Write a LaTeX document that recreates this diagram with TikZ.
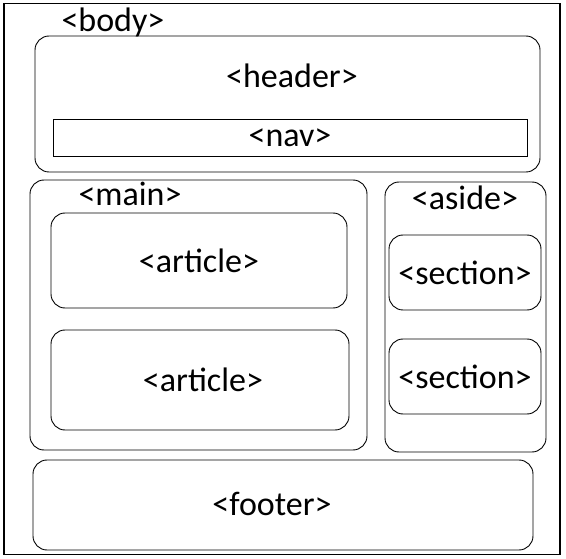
\documentclass[tikz,border=0pt]{standalone}
\usepackage{fontspec}
\setmainfont{Carlito}

\begin{document}
\begin{tikzpicture}[x=1pt, y=-1pt,
  box/.style = {draw, line width=0.9pt, rounded corners=14pt, inner sep=0pt},
  tag/.style = {font=\fontsize{34}{38}\selectfont, inner sep=0pt}]

\useasboundingbox (0,0) rectangle (566,559);

\node[box, rounded corners=0pt, line width=1.2pt, minimum width=556pt, minimum height=551pt] (body) at (282,279) {};
\node[tag] (bodytag) at (113,22) {<body>};

\node[box, minimum width=505pt, minimum height=136pt] (header) at (287.5,104) {};
\node[tag] (headertag) at (292,76) {<header>};
\node[box, rounded corners=0pt, minimum width=474pt, minimum height=37pt, tag] (nav) at (290,137.5) {<nav>};

\node[box, minimum width=337pt, minimum height=270pt] (main) at (198.5,315) {};
\node[tag] (maintag) at (130,194) {<main>};
\node[box, minimum width=296pt, minimum height=95pt, tag] (article1) at (199,260.5) {<article>};
\node[box, minimum width=298pt, minimum height=100pt] (article2) at (200,380) {};
\node[tag] (article2tag) at (203,380) {<article>};

\node[box, minimum width=161pt, minimum height=270pt] (aside) at (465.5,317) {};
\node[tag] (asidetag) at (465,198) {<aside>};
\node[box, minimum width=152pt, minimum height=75pt, tag] (section1) at (465,272.5) {<section>};
\node[box, minimum width=152pt, minimum height=75pt, tag] (section2) at (465,376.5) {<section>};

\node[box, minimum width=500pt, minimum height=90pt] (footer) at (283,505) {};
\node[tag] (footertag) at (272,504) {<footer>};

\end{tikzpicture}
\end{document}
